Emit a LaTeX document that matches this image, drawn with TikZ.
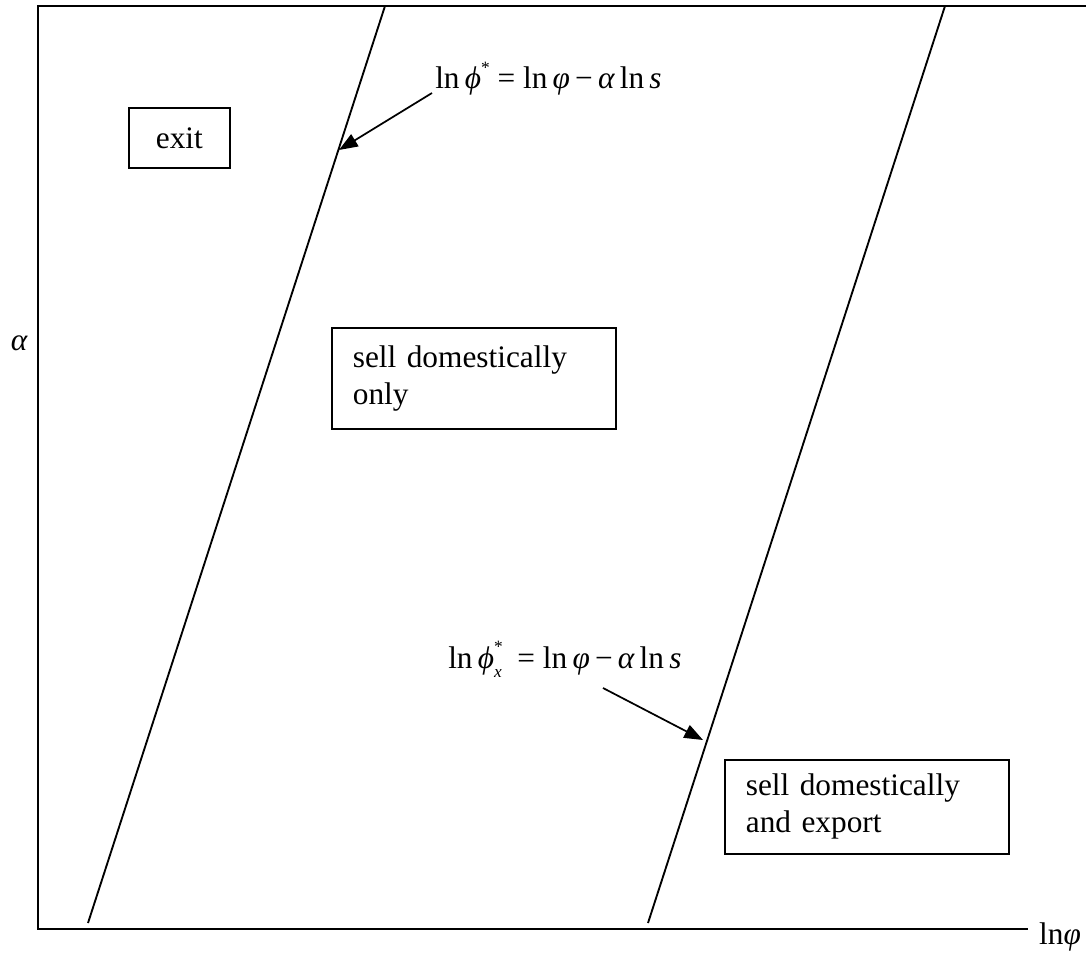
\documentclass[tikz,border=0pt]{standalone}
\usepackage{fontspec}
\setmainfont{Liberation Serif}
\usetikzlibrary{arrows.meta}
\newcommand{\starsub}[1]{\rlap{\raisebox{.5em}{\fontsize{13}{13}\selectfont *}}\raisebox{-.3em}{\fontsize{13}{13}\selectfont\itshape #1}}
\newcommand{\staronly}{\raisebox{.5em}{\fontsize{13}{13}\selectfont *}}
\begin{document}
\begin{tikzpicture}[x=0.75pt,y=-0.75pt,
  font=\fontsize{23.5}{27.75}\selectfont,
  axis/.style={line width=1.6pt},
  bound/.style={line width=1.4pt},
  region/.style={draw, line width=1.3pt, anchor=north west, align=left, inner ysep=0pt},
  pointer/.style={line width=1.3pt, -{Triangle[length=14pt,width=10.5pt]}}]
\useasboundingbox (0,0) rectangle (1086,956);
% axes
\coordinate (tl) at (38,6);
\coordinate (tr) at (1086,6);
\coordinate (bl) at (38,929);
\coordinate (br) at (1028,929);
\draw[axis] (tr) -- (tl) -- (bl) -- (br);
% boundary lines
\coordinate (a1) at (88,923);
\coordinate (a2) at (385,6);
\coordinate (b1) at (648,923);
\coordinate (b2) at (945,6);
\draw[bound] (a1) -- (a2);
\draw[bound] (b1) -- (b2);
% region boxes
\node[region, minimum width=75.75pt, minimum height=45pt, align=center, inner xsep=0pt] (exit) at (128,107) {exit};
\node[region, minimum width=213pt, minimum height=75.75pt, text width=181.5pt, inner xsep=15.75pt] (dom) at (331,327) {sell domestically\\only};
\node[region, minimum width=213pt, minimum height=70.5pt, text width=181.5pt, inner xsep=15.75pt] (exp) at (724,759) {sell domestically\\and export};
% equations
\node[anchor=base west, inner sep=0pt] (eq1) at (435,89) {ln\,{\itshape ϕ}\staronly\ = ln\,{\itshape φ}\,−\,{\itshape α}\,ln\,{\itshape s}};
\node[anchor=base west, inner sep=0pt] (eq2) at (448,668) {ln\,{\itshape ϕ}\starsub{x}\ \ = ln\,{\itshape φ}\,−\,{\itshape α}\,ln\,{\itshape s}};
% pointers
\coordinate (t1) at (432,93);
\coordinate (h1) at (339,150);
\coordinate (t2) at (603,688);
\coordinate (h2) at (703,740);
\draw[pointer] (t1) -- (h1);
\draw[pointer] (t2) -- (h2);
% axis labels
\node (alpha) at (19,343) {\itshape α};
\node (lnphi) at (1060,937) {ln{\itshape φ}};
\end{tikzpicture}
\end{document}
